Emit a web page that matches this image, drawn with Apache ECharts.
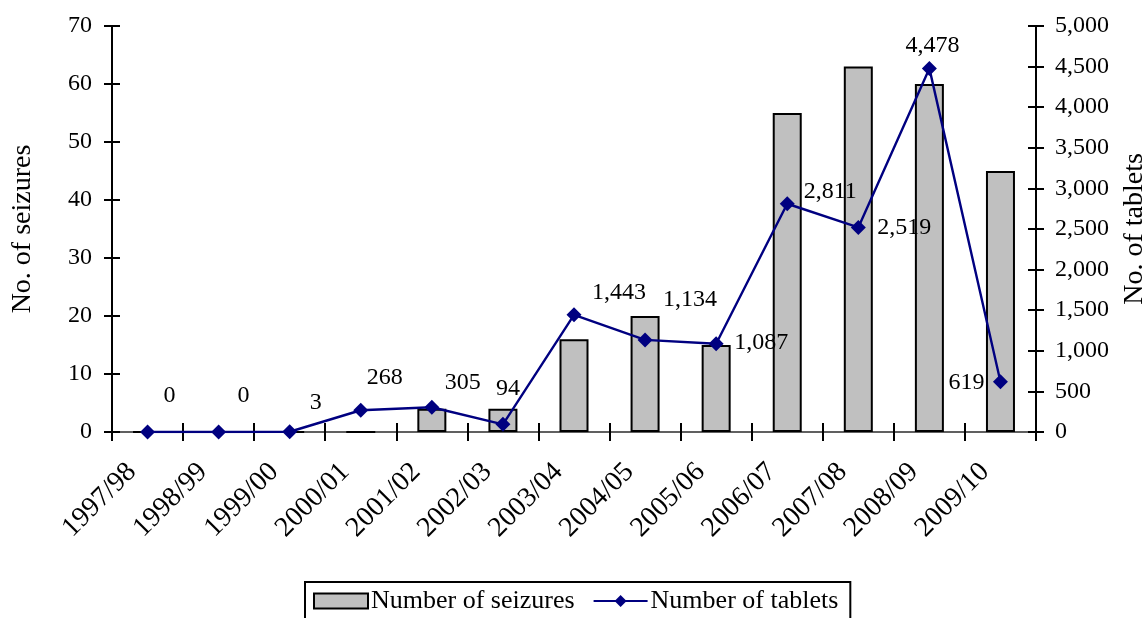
<!DOCTYPE html>
<html>
<head>
<meta charset="utf-8">
<script src="https://cdn.jsdelivr.net/npm/echarts@6/dist/echarts.min.js"></script>
<style>
  html, body { margin: 0; padding: 0; background: #fff; overflow: hidden; }
  #chart { width: 1146px; height: 618px; }
</style>
</head>
<body>
<div id="chart"></div>
<script>
// Financial years
const categories = ['1997/98', '1998/99', '1999/00', '2000/01', '2001/02', '2002/03', '2003/04',
  '2004/05', '2005/06', '2006/07', '2007/08', '2008/09', '2009/10'];
// Number of seizures (left axis)
const seizures = [0, 0, 0, 0, 4, 4, 16, 20, 15, 55, 63, 60, 45];
// Number of tablets (right axis)
const tablets = [0, 0, 3, 268, 305, 94, 1443, 1134, 1087, 2811, 2519, 4478, 619];
// Where each tablet count label sits relative to its marker, in pixels
const labelOffsets = [[22, -36], [25, -36], [26, -29], [24, -33], [31, -25], [5, -36], [45, -22],
  [45, -40], [45, -1], [43, -12], [46, 0], [3, -23], [-34, 1]];

const FONT = 'Liberation Serif';
const FS = 24;
const fmt = v => Number(v).toLocaleString('en-US');

const chart = echarts.init(document.getElementById('chart'), null, { renderer: 'canvas' });

const tickOut = len => ({ show: true, inside: false, length: len, lineStyle: { color: '#000', width: 2 } });
const tickIn = len => ({ show: true, inside: true, length: len, lineStyle: { color: '#000', width: 2 } });

chart.setOption({
  animation: false,
  textStyle: { fontFamily: FONT },
  grid: { left: 112, right: 110, top: 26, bottom: 186, containLabel: false, outerBoundsMode: 'none' },
  legend: {
    left: 305,
    top: 582,
    padding: [6, 12, 12, 8],
    borderColor: '#000',
    borderWidth: 2,
    itemWidth: 54,
    itemHeight: 15,
    itemGap: 18,
    textStyle: { fontFamily: FONT, fontSize: 26, color: '#000', padding: [0, 0, 0, -2] },
    data: [
      { name: 'Number of seizures', icon: 'rect' },
      { name: 'Number of tablets' }
    ]
  },
  xAxis: [
    {
      type: 'category',
      data: categories,
      position: 'bottom',
      axisLine: { show: true, lineStyle: { color: '#000', width: 2 } },
      axisTick: tickOut(9),
      axisLabel: {
        rotate: 45, margin: 20, padding: [0, 22, 0, 0],
        color: '#000', fontFamily: FONT, fontSize: 28, interval: 0
      }
    },
    {
      type: 'category',
      data: categories,
      position: 'bottom',
      axisLine: { show: false },
      axisTick: tickIn(9),
      axisLabel: { show: false }
    },
    {
      type: 'category',
      data: categories,
      position: 'top',
      axisLine: { show: true, lineStyle: { color: '#808080', width: 1.5 } },
      axisTick: { show: false },
      axisLabel: { show: false }
    }
  ],
  yAxis: [
    {
      type: 'value',
      position: 'left',
      min: 0, max: 70, interval: 10,
      name: 'No. of seizures',
      nameLocation: 'middle',
      nameRotate: 90,
      nameGap: 75,
      nameTextStyle: { fontFamily: FONT, fontSize: 28, color: '#000' },
      splitLine: { show: false },
      axisLine: { show: true, lineStyle: { color: '#000', width: 2 } },
      axisTick: tickOut(8),
      axisLabel: { margin: 20, color: '#000', fontFamily: FONT, fontSize: FS }
    },
    {
      type: 'value',
      position: 'right',
      min: 0, max: 5000, interval: 500,
      name: 'No. of tablets',
      nameLocation: 'middle',
      nameRotate: 90,
      nameGap: 85,
      nameTextStyle: { fontFamily: FONT, fontSize: 28, color: '#000' },
      splitLine: { show: false },
      axisLine: { show: true, lineStyle: { color: '#000', width: 2 } },
      axisTick: tickOut(8),
      axisLabel: { margin: 19, color: '#000', fontFamily: FONT, fontSize: FS, formatter: fmt }
    },
    {
      type: 'value',
      position: 'left',
      min: 0, max: 70, interval: 10,
      splitLine: { show: false },
      axisLine: { show: false },
      axisTick: tickIn(8),
      axisLabel: { show: false }
    },
    {
      type: 'value',
      position: 'right',
      min: 0, max: 5000, interval: 500,
      splitLine: { show: false },
      axisLine: { show: false },
      axisTick: tickIn(8),
      axisLabel: { show: false }
    }
  ],
  series: [
    {
      name: 'Number of seizures',
      type: 'bar',
      xAxisIndex: 0,
      yAxisIndex: 0,
      data: seizures,
      barWidth: 29,
      itemStyle: { color: '#c0c0c0', borderColor: '#000', borderWidth: 2 }
    },
    {
      name: 'Number of tablets',
      type: 'line',
      xAxisIndex: 0,
      yAxisIndex: 1,
      data: tablets.map((v, i) => ({
        value: v,
        label: { offset: labelOffsets[i] }
      })),
      symbol: 'diamond',
      symbolSize: 15,
      lineStyle: { color: '#000080', width: 2.4 },
      itemStyle: { color: '#000080' },
      label: {
        show: true,
        position: 'inside',
        color: '#000',
        fontFamily: FONT,
        fontSize: FS,
        formatter: p => fmt(p.value)
      },
      z: 5
    }
  ]
});
</script>
</body>
</html>
